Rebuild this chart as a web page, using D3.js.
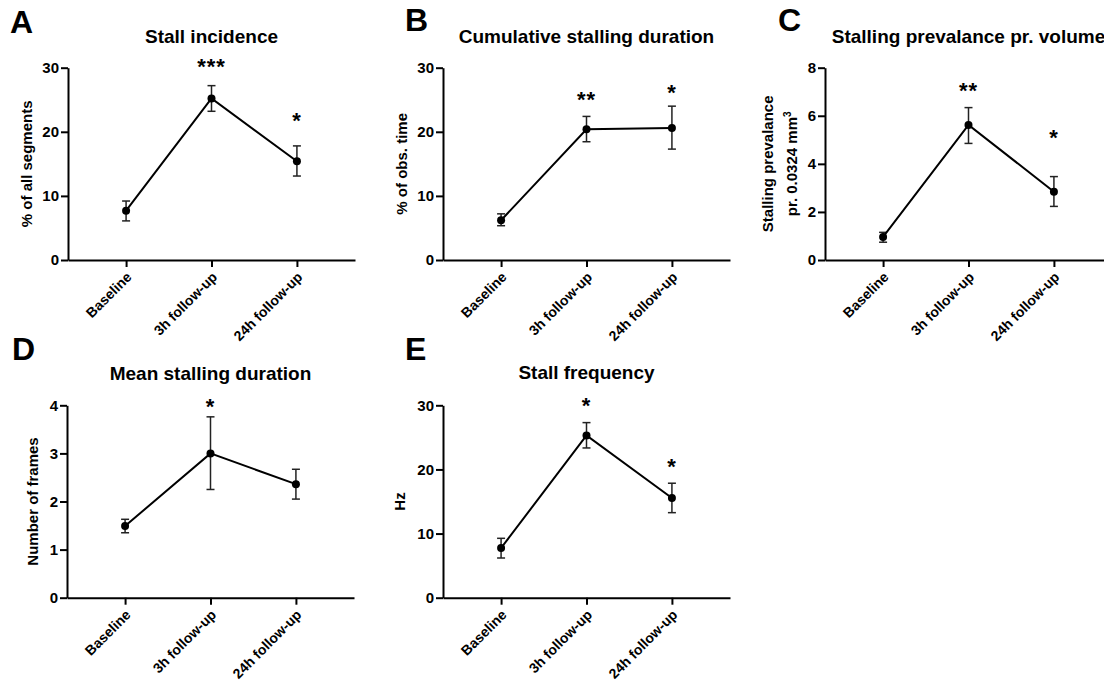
<!DOCTYPE html>
<html>
<head>
<meta charset="utf-8">
<script src="https://cdn.jsdelivr.net/npm/d3@7"></script>
<style>
  body { margin: 0; background: #fff; }
  svg { display: block; font-family: "Liberation Sans", Arial, sans-serif; }
  .axis path, .axis line { stroke: #000; stroke-width: 2; }
  .axis text { font-size: 15px; font-weight: bold; fill: #000; }
  .axis.x text { font-size: 14px; }
</style>
</head>
<body>
<div id="chart"></div>
<script>
const width = 1104;
const height = 685;

// groups along the x axis
const groups = ['Baseline', '3h follow-up', '24h follow-up'];

// A: stall incidence (% of all segments)
const incidenceMean = [7.7, 25.2, 15.4];
const incidenceLow = [6.1, 23.2, 13.1];
const incidenceHigh = [9.2, 27.2, 17.8];
const incidenceStars = ['', '***', '*'];
const incidenceStarAt = [null, 30.9, 22.4];

// B: cumulative stalling duration (% of obs. time)
const cumulativeMean = [6.2, 20.4, 20.6];
const cumulativeLow = [5.35, 18.45, 17.3];
const cumulativeHigh = [7.2, 22.4, 24.0];
const cumulativeStars = ['', '**', '*'];
const cumulativeStarAt = [null, 25.7, 26.8];

// C: stalling prevalance pr. volume
const prevalenceMean = [0.96, 5.62, 2.84];
const prevalenceLow = [0.74, 4.85, 2.23];
const prevalenceHigh = [1.15, 6.34, 3.47];
const prevalenceStars = ['', '**', '*'];
const prevalenceStarAt = [null, 7.24, 5.27];

// D: mean stalling duration (frames)
const durationMean = [1.49, 3.0, 2.36];
const durationLow = [1.35, 2.25, 2.05];
const durationHigh = [1.63, 3.76, 2.67];
const durationStars = ['', '*', ''];
const durationStarAt = [null, 4.06, null];

// E: stall frequency (Hz)
const frequencyMean = [7.75, 25.3, 15.55];
const frequencyLow = [6.19, 23.35, 13.26];
const frequencyHigh = [9.26, 27.3, 17.85];
const frequencyStars = ['', '*', '*'];
const frequencyStarAt = [null, 30.7, 21.2];

const ticks30 = [0, 10, 20, 30];
const ticks8 = [0, 2, 4, 6, 8];
const ticks4 = [0, 1, 2, 3, 4];

const panels = [
  { letter: 'A', title: 'Stall incidence', ylabel: ['% of all segments'],
    mean: incidenceMean, low: incidenceLow, high: incidenceHigh,
    stars: incidenceStars, starAt: incidenceStarAt, yMax: 30, ticks: ticks30,
    x0: 68, top: 67.7, bottom: 260, labelX: -41, letterX: 10, letterY: 33, titleY: 43 },
  { letter: 'B', title: 'Cumulative stalling duration', ylabel: ['% of obs. time'],
    mean: cumulativeMean, low: cumulativeLow, high: cumulativeHigh,
    stars: cumulativeStars, starAt: cumulativeStarAt, yMax: 30, ticks: ticks30,
    x0: 443, top: 67.7, bottom: 260, labelX: -41, letterX: 405, letterY: 31, titleY: 43 },
  { letter: 'C', title: 'Stalling prevalance pr. volume', ylabel: ['Stalling prevalance', 'pr. 0.0324 mm'],
    mean: prevalenceMean, low: prevalenceLow, high: prevalenceHigh,
    stars: prevalenceStars, starAt: prevalenceStarAt, yMax: 8, ticks: ticks8,
    x0: 825, top: 67.7, bottom: 260, labelX: -45, letterX: 778, letterY: 31, titleY: 43 },
  { letter: 'D', title: 'Mean stalling duration', ylabel: ['Number of frames'],
    mean: durationMean, low: durationLow, high: durationHigh,
    stars: durationStars, starAt: durationStarAt, yMax: 4, ticks: ticks4,
    x0: 67, top: 405.3, bottom: 597.7, labelX: -34, letterX: 12, letterY: 360, titleY: 380 },
  { letter: 'E', title: 'Stall frequency', ylabel: ['Hz'],
    mean: frequencyMean, low: frequencyLow, high: frequencyHigh,
    stars: frequencyStars, starAt: frequencyStarAt, yMax: 30, ticks: ticks30,
    x0: 443, top: 405.3, bottom: 597.7, labelX: -43, letterX: 405, letterY: 360, titleY: 379 }
];

const plotW = 287;

const svg = d3.select('#chart').append('svg')
  .attr('width', width)
  .attr('height', height);

panels.forEach(p => {
  const x = d3.scalePoint().domain(groups).range([p.x0, p.x0 + plotW]).padding(0.68);
  const y = d3.scaleLinear().domain([0, p.yMax]).range([p.bottom, p.top]);
  const g = svg.append('g');

  // panel letter + title
  g.append('text')
    .attr('x', p.letterX).attr('y', p.letterY)
    .attr('font-size', 32).attr('font-weight', 'bold')
    .text(p.letter);
  g.append('text')
    .attr('x', p.x0 + plotW / 2).attr('y', p.titleY)
    .attr('text-anchor', 'middle')
    .attr('font-size', 19).attr('font-weight', 'bold')
    .text(p.title);

  // axes
  g.append('g').attr('class', 'axis y')
    .attr('transform', `translate(${p.x0},0)`)
    .call(d3.axisLeft(y).tickValues(p.ticks).tickFormat(d3.format('d'))
      .tickSize(7).tickSizeOuter(0).tickPadding(2));

  const xa = g.append('g').attr('class', 'axis x')
    .attr('transform', `translate(0,${p.bottom})`)
    .call(d3.axisBottom(x).tickSize(7).tickSizeOuter(0));
  xa.selectAll('.tick text')
    .attr('text-anchor', 'end')
    .attr('y', 0).attr('dy', 0)
    .attr('transform', 'translate(6,18) rotate(-45)');

  // y label (1 or 2 lines)
  const cy = (p.top + p.bottom) / 2;
  const n = p.ylabel.length;
  p.ylabel.forEach((line, i) => {
    const lx = p.x0 + p.labelX + (i - (n - 1) / 2) * 24;
    const t = g.append('text')
      .attr('transform', `translate(${lx},${cy}) rotate(-90)`)
      .attr('text-anchor', 'middle')
      .attr('dy', '0.35em')
      .attr('font-size', 15).attr('font-weight', 'bold')
      .text(line);
    if (p.letter === 'C' && i === 1) {
      t.append('tspan').attr('font-size', 10).attr('dy', '-0.6em').text('3');
    }
  });

  const rows = groups.map((k, i) => ({ k, m: p.mean[i], lo: p.low[i], hi: p.high[i], s: p.stars[i], sa: p.starAt[i] }));

  // error bars
  const eb = g.append('g').attr('stroke', '#222').attr('stroke-width', 1.5);
  rows.forEach(d => {
    eb.append('line').attr('x1', x(d.k)).attr('x2', x(d.k)).attr('y1', y(d.lo)).attr('y2', y(d.hi));
    eb.append('line').attr('x1', x(d.k) - 4).attr('x2', x(d.k) + 4).attr('y1', y(d.lo)).attr('y2', y(d.lo));
    eb.append('line').attr('x1', x(d.k) - 4).attr('x2', x(d.k) + 4).attr('y1', y(d.hi)).attr('y2', y(d.hi));
  });

  // mean line + points
  g.append('path')
    .datum(rows)
    .attr('fill', 'none').attr('stroke', '#000').attr('stroke-width', 2)
    .attr('d', d3.line().x(d => x(d.k)).y(d => y(d.m)));
  g.selectAll('circle.pt').data(rows).join('circle')
    .attr('class', 'pt')
    .attr('cx', d => x(d.k)).attr('cy', d => y(d.m)).attr('r', 4)
    .attr('fill', '#000');

  // significance stars
  g.selectAll('text.star').data(rows.filter(d => d.s)).join('text')
    .attr('class', 'star')
    .attr('x', d => x(d.k)).attr('y', d => y(d.sa) + 12)
    .attr('text-anchor', 'middle')
    .attr('font-size', 22).attr('font-weight', 'bold')
    .attr('letter-spacing', 1)
    .text(d => d.s);
});
</script>
</body>
</html>
